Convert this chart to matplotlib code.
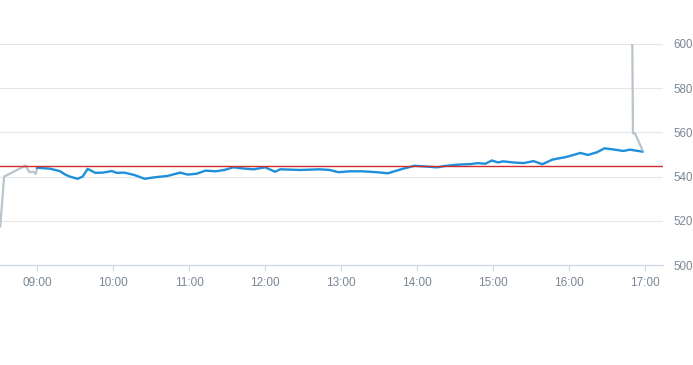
import matplotlib
matplotlib.use("Agg")
import matplotlib.pyplot as plt
from matplotlib.ticker import FixedLocator, FuncFormatter

# pre-market / after-hours trace (grey)
pre_times = ["08:31", "08:34", "08:51", "08:54", "08:57", "08:59", "09:00"]
pre_vals = [517.5, 540.0, 545.0, 542.0, 542.3, 541.2, 544.0]

post_times = ["16:50", "16:50.5", "16:52", "16:58"]
post_vals = [600.0, 559.5, 559.7, 552.0]

# regular session (blue)
day_times = ["09:00", "09:10", "09:18", "09:22", "09:26", "09:32", "09:36", "09:40",
             "09:46", "09:52", "09:59", "10:03", "10:09", "10:17", "10:25", "10:33",
             "10:43", "10:53", "10:59", "11:06", "11:13", "11:21", "11:28", "11:35",
             "11:44", "11:51", "12:00", "12:08", "12:12", "12:28", "12:43", "12:51",
             "12:58", "13:07", "13:17", "13:28", "13:37", "13:48", "13:58", "14:06",
             "14:16", "14:22", "14:32", "14:43", "14:48", "14:54", "14:59", "15:04",
             "15:08", "15:16", "15:24", "15:32", "15:39", "15:47", "15:58", "16:09",
             "16:15", "16:22", "16:28", "16:36", "16:43", "16:48", "16:58"]
day_vals = [544.0, 543.6, 542.5, 541.0, 540.0, 539.0, 540.0, 543.5,
            541.7, 541.8, 542.5, 541.7, 541.8, 540.7, 539.0, 539.7,
            540.3, 541.8, 540.9, 541.3, 542.7, 542.4, 543.0, 544.2,
            543.6, 543.3, 544.2, 542.2, 543.3, 543.0, 543.3, 543.0,
            542.0, 542.4, 542.4, 542.0, 541.5, 543.4, 544.9, 544.6,
            544.2, 544.8, 545.4, 545.7, 546.1, 545.8, 547.3, 546.4,
            546.9, 546.4, 546.1, 547.0, 545.6, 547.7, 548.9, 550.7,
            549.8, 551.0, 552.8, 552.2, 551.6, 552.2, 551.3]

prev_close = 544.8
y_ticks = [500, 520, 540, 560, 580, 600]
x_ticks = ["09:00", "10:00", "11:00", "12:00", "13:00", "14:00", "15:00", "16:00", "17:00"]


def to_hours(s):
    h, m = s.split(":")
    return int(h) + float(m) / 60.0


label_color = "#7a8795"
plt.rcParams['font.family'] = ['Liberation Sans', 'DejaVu Sans']

fig = plt.figure(figsize=(6.93, 3.65), dpi=100)
ax = fig.add_axes([0.0, 1 - 265 / 365, 663 / 693, (265 - 44) / 365])

ax.plot([to_hours(t) for t in pre_times], pre_vals, color="#b9c4cc", lw=1.6, zorder=3)
ax.plot([to_hours(t) for t in day_times], day_vals, color="#1e8fd9", lw=1.7, zorder=4)
ax.plot([to_hours(t) for t in post_times], post_vals, color="#b9c4cc", lw=1.6, zorder=5)
ax.axhline(prev_close, color="#d32a2a", lw=1.0, zorder=6)

ax.set_xlim(8.513, 17.237)
ax.set_ylim(500, 600)

ax.yaxis.set_major_locator(FixedLocator(y_ticks))
ax.yaxis.tick_right()
ax.tick_params(axis="y", length=0, pad=7.5, labelsize=8.3, labelcolor=label_color)
for lbl in ax.get_yticklabels():
    lbl.set_horizontalalignment("left")
ax.grid(axis="y", color="#e6e6e6", lw=0.8)

ax.xaxis.set_major_locator(FixedLocator([to_hours(t) for t in x_ticks]))
ax.xaxis.set_major_formatter(FuncFormatter(lambda v, p: "%02d:00" % round(v)))
ax.tick_params(axis="x", length=4, width=0.8, color="#ccd6eb", pad=5,
               labelsize=8.5, labelcolor=label_color)

for side in ["top", "left", "right"]:
    ax.spines[side].set_visible(False)
ax.spines["bottom"].set_color("#ccd6eb")
ax.spines["bottom"].set_linewidth(0.8)
ax.set_axisbelow(True)

fig.savefig("out.png", dpi=100)
